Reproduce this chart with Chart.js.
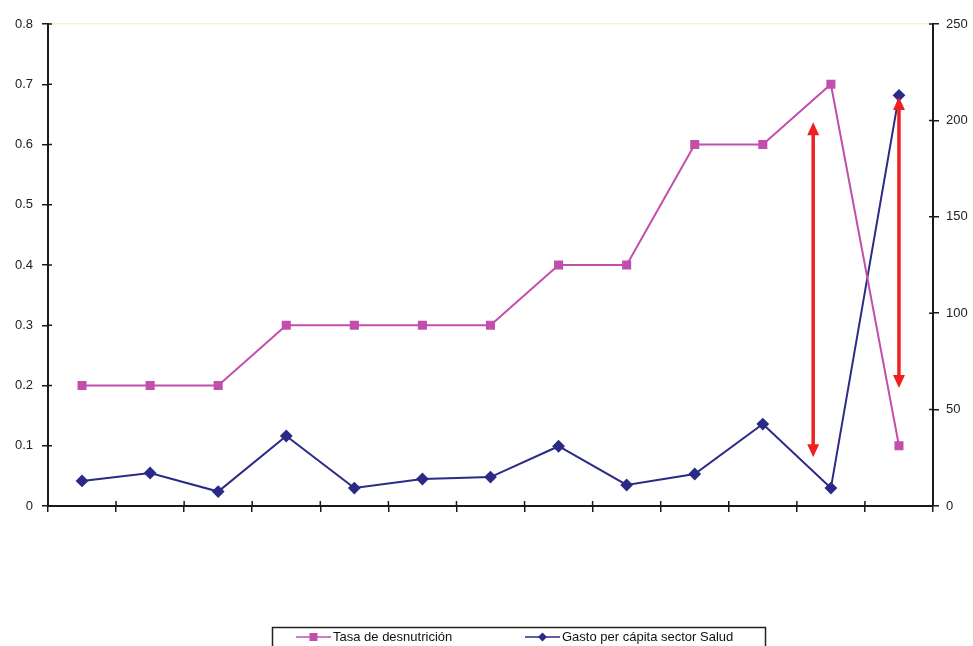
<!DOCTYPE html>
<html>
<head>
<meta charset="utf-8">
<script src="https://cdn.jsdelivr.net/npm/chart.js@4.4.1/dist/chart.umd.min.js"></script>
<style>
  html, body { margin: 0; padding: 0; background: #fff; }
  #wrap { width: 973px; height: 646px; }
</style>
</head>
<body>
<div id="wrap"><canvas id="c" width="973" height="646"></canvas></div>
<script>
// Periods along the horizontal axis (unlabelled on the chart)
const categories = ['1', '2', '3', '4', '5', '6', '7', '8', '9', '10', '11', '12', '13'];
// Malnutrition rate (left axis)
const tasaDesnutricion = [0.2, 0.2, 0.2, 0.3, 0.3, 0.3, 0.3, 0.4, 0.4, 0.6, 0.6, 0.7, 0.1];
// Per-capita health spending (right axis)
const gastoPerCapita = [13, 17.1, 7.5, 36.3, 9.3, 14, 15, 31, 10.9, 16.6, 42.5, 9.3, 213];
// Highlight arrows: category position and left-axis span
const arrowAt = [10.74, 12];
const arrowFrom = [0.081, 0.196];
const arrowTo = [0.637, 0.679];

const PINK = '#c24fab';
const NAVY = '#2b2a86';
const FONT = "'Liberation Sans', Arial, sans-serif";

// Cross-style tick marks: extend each tick inward into the plot area as well
const innerTicks = {
  id: 'innerTicks',
  afterDraw(chart) {
    const ctx = chart.ctx;
    const area = chart.chartArea;
    const { x, y, y2 } = chart.scales;
    ctx.save();
    ctx.strokeStyle = '#1a1a1a';
    ctx.lineWidth = 1.5;
    ctx.beginPath();
    y.ticks.forEach((t, i) => {
      const py = y.getPixelForTick(i);
      ctx.moveTo(area.left, py); ctx.lineTo(area.left + 4, py);
    });
    y2.ticks.forEach((t, i) => {
      const py = y2.getPixelForTick(i);
      ctx.moveTo(area.right, py); ctx.lineTo(area.right - 4, py);
    });
    const half = (x.getPixelForValue(1) - x.getPixelForValue(0)) / 2;
    for (let i = 0; i <= categories.length; i++) {
      const px = x.getPixelForValue(i) - half;
      ctx.moveTo(px, area.bottom); ctx.lineTo(px, area.bottom - 5);
    }
    ctx.stroke();
    ctx.restore();
  }
};

// Double-headed red arrows
const arrows = {
  id: 'arrows',
  afterDatasetsDraw(chart) {
    const ctx = chart.ctx;
    const { x, y } = chart.scales;
    ctx.save();
    ctx.strokeStyle = '#ee2020';
    ctx.fillStyle = '#ee2020';
    ctx.lineWidth = 3.5;
    arrowAt.forEach((pos, i) => {
      const i0 = Math.floor(pos);
      const px = x.getPixelForValue(i0) + (pos - i0) * (x.getPixelForValue(i0 + 1) - x.getPixelForValue(i0));
      const yTop = y.getPixelForValue(arrowTo[i]);
      const yBot = y.getPixelForValue(arrowFrom[i]);
      const hw = 6, hl = 13;
      ctx.beginPath();
      ctx.moveTo(px, yTop + hl - 1);
      ctx.lineTo(px, yBot - hl + 1);
      ctx.stroke();
      ctx.beginPath();
      ctx.moveTo(px, yTop); ctx.lineTo(px - hw, yTop + hl); ctx.lineTo(px + hw, yTop + hl); ctx.closePath();
      ctx.fill();
      ctx.beginPath();
      ctx.moveTo(px, yBot); ctx.lineTo(px - hw, yBot - hl); ctx.lineTo(px + hw, yBot - hl); ctx.closePath();
      ctx.fill();
    });
    ctx.restore();
  }
};

// Boxed legend below the plot, with line-and-marker samples
const boxedLegend = {
  id: 'boxedLegend',
  afterDraw(chart) {
    const ctx = chart.ctx;
    const ds = chart.data.datasets;
    ctx.save();
    ctx.strokeStyle = '#222';
    ctx.lineWidth = 1.5;
    ctx.strokeRect(272.5, 627.5, 493, 40);
    const items = [{ x: 296 }, { x: 525 }];
    const cy = 637;
    ctx.font = '13px ' + FONT;
    ctx.textBaseline = 'middle';
    ctx.textAlign = 'left';
    ds.forEach((d, i) => {
      const x0 = items[i].x;
      ctx.strokeStyle = d.borderColor;
      ctx.lineWidth = 1.5;
      ctx.beginPath(); ctx.moveTo(x0, cy); ctx.lineTo(x0 + 35, cy); ctx.stroke();
      ctx.fillStyle = d.pointBackgroundColor;
      const mx = x0 + 17.5;
      if (d.pointStyle === 'rect') {
        ctx.fillRect(mx - 4, cy - 4, 8, 8);
      } else {
        ctx.beginPath();
        ctx.moveTo(mx, cy - 4.5); ctx.lineTo(mx + 4.5, cy); ctx.lineTo(mx, cy + 4.5); ctx.lineTo(mx - 4.5, cy);
        ctx.closePath(); ctx.fill();
      }
      ctx.fillStyle = '#111';
      ctx.fillText(d.label, x0 + 37, cy + 0.5);
    });
    ctx.restore();
  }
};

new Chart(document.getElementById('c'), {
  type: 'line',
  data: {
    labels: categories,
    datasets: [
      {
        label: 'Tasa de desnutrición',
        data: tasaDesnutricion,
        yAxisID: 'y',
        borderColor: PINK,
        backgroundColor: PINK,
        pointBackgroundColor: PINK,
        pointBorderColor: PINK,
        pointStyle: 'rect',
        pointRadius: 5,
        borderWidth: 2,
        tension: 0
      },
      {
        label: 'Gasto per cápita sector Salud',
        data: gastoPerCapita,
        yAxisID: 'y2',
        borderColor: NAVY,
        backgroundColor: NAVY,
        pointBackgroundColor: NAVY,
        pointBorderColor: NAVY,
        pointStyle: 'rectRot',
        pointRadius: 5,
        borderWidth: 2,
        tension: 0
      }
    ]
  },
  options: {
    responsive: false,
    animation: false,
    layout: { padding: { top: 24, bottom: 120, left: 0, right: 0 } },
    plugins: { legend: { display: false }, tooltip: { enabled: false } },
    scales: {
      x: {
        type: 'category',
        offset: true,
        ticks: { display: false },
        border: { display: true, color: '#1a1a1a', width: 2 },
        grid: { offset: true, drawOnChartArea: false, color: '#1a1a1a', lineWidth: 1.5, tickLength: 6 },
        afterFit(s) { s.height = 20; }
      },
      y: {
        position: 'left',
        min: 0, max: 0.8,
        ticks: {
          stepSize: 0.1,
          color: '#222',
          padding: 9,
          font: { family: FONT, size: 13 },
          callback: v => (Math.round(v * 10) / 10).toString()
        },
        border: { display: true, color: '#1a1a1a', width: 2 },
        grid: {
          drawOnChartArea: true,
          color: c => (c.tick && Math.abs(c.tick.value - 0.8) < 1e-9) ? '#fbf1d6' : 'rgba(0,0,0,0)',
          tickColor: '#1a1a1a',
          lineWidth: 1.5,
          tickLength: 6
        },
        afterFit(s) { s.width = 48; }
      },
      y2: {
        position: 'right',
        min: 0, max: 250,
        ticks: { stepSize: 50, color: '#222', padding: 7, font: { family: FONT, size: 13 } },
        border: { display: true, color: '#1a1a1a', width: 2 },
        grid: { drawOnChartArea: false, color: '#1a1a1a', lineWidth: 1.5, tickLength: 6 },
        afterFit(s) { s.width = 40; }
      }
    }
  },
  plugins: [innerTicks, arrows, boxedLegend]
});
</script>
</body>
</html>
